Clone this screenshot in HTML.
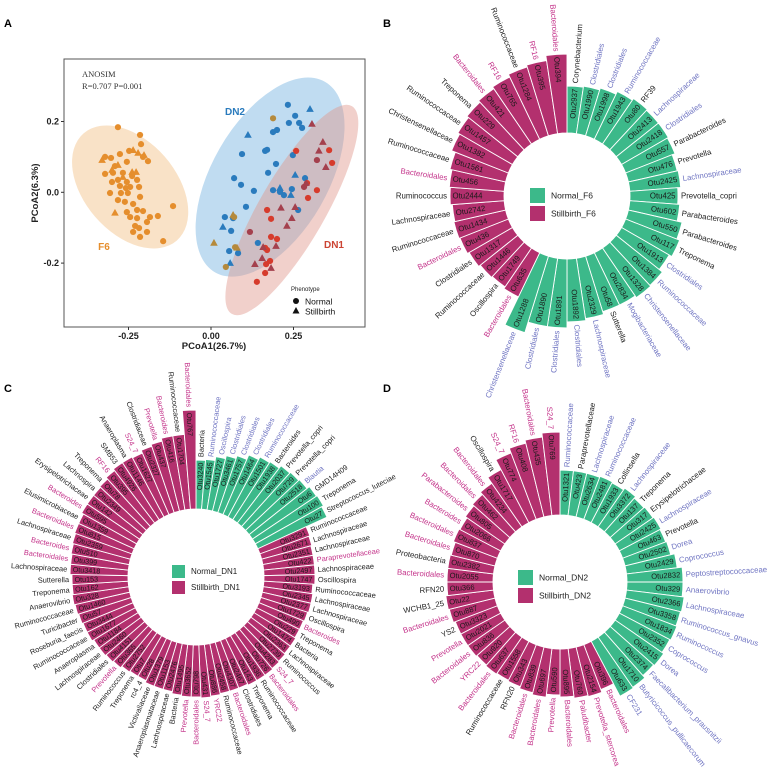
<!DOCTYPE html>
<html><head><meta charset="utf-8">
<style>
html,body{margin:0;padding:0;background:#fff;}
svg{display:block;font-family:"Liberation Sans",Arial,sans-serif;}
</style></head>
<body>
<svg id="fig" width="778" height="783" viewBox="0 0 778 783" xmlns="http://www.w3.org/2000/svg">
  <text x="4" y="27" font-size="11" font-weight="bold">A</text>
  <text x="383" y="27" font-size="11" font-weight="bold">B</text>
  <text x="4" y="392" font-size="11" font-weight="bold">C</text>
  <text x="383" y="392" font-size="11" font-weight="bold">D</text>
  <g id="panelA"></g>
  <g id="panelB"></g>
  <g id="panelC"></g>
  <g id="panelD"></g>
</svg>
<script>
// ---------- Panel A data (PCoA coordinates) ----------
const xTicks = [-0.25, 0.00, 0.25];
const xTickLabels = ["-0.25", "0.00", "0.25"];
const yTicks = [0.2, 0.0, -0.2];
const yTickLabels = ["0.2", "0.0", "-0.2"];
const f6Circles = [[-0.282,0.184],[-0.215,0.162],[-0.212,0.136],[-0.321,0.100],[-0.303,0.097],[-0.276,0.108],[-0.248,0.117],[-0.206,0.100],[-0.191,0.088],[-0.255,0.086],[-0.291,0.074],[-0.321,0.052],[-0.297,0.055],[-0.267,0.055],[-0.239,0.046],[-0.300,0.029],[-0.282,0.035],[-0.255,0.029],[-0.224,0.035],[-0.276,0.018],[-0.245,0.015],[-0.218,0.015],[-0.306,-0.002],[-0.273,-0.002],[-0.252,-0.002],[-0.282,-0.022],[-0.261,-0.027],[-0.236,-0.033],[-0.215,-0.013],[-0.255,-0.056],[-0.224,-0.050],[-0.206,-0.053],[-0.185,-0.070],[-0.245,-0.070],[-0.224,-0.073],[-0.194,-0.084],[-0.230,-0.095],[-0.218,-0.101],[-0.236,-0.112],[-0.194,-0.112],[-0.215,-0.126],[-0.161,-0.067],[-0.115,-0.039],[-0.145,-0.138],[-0.258,0.012]];
const f6Triangles = [[-0.330,0.091],[-0.236,0.119],[-0.221,0.111],[-0.203,0.105],[-0.282,0.077],[-0.300,0.063],[-0.239,0.057],[-0.227,0.057],[-0.267,0.043],[-0.291,-0.058]];
const dn2Circles = [[0.233,0.247],[0.255,0.216],[0.236,0.196],[0.267,0.196],[0.276,0.182],[0.188,0.170],[0.200,0.176],[0.170,0.120],[0.164,0.117],[0.094,0.108],[0.248,0.105],[0.197,0.080],[0.173,0.055],[0.070,0.040],[0.091,0.021],[0.130,0.004],[0.245,0.009],[0.285,0.040],[0.221,-0.008],[0.106,-0.041],[0.042,-0.070],[0.067,-0.073],[0.061,-0.109],[0.055,-0.166],[0.082,-0.172],[0.142,-0.143],[0.264,-0.050],[0.188,0.006],[0.209,0.001]];
const dn2Triangles = [[0.112,0.162],[0.300,0.235],[0.255,0.049],[0.209,0.012],[0.242,-0.008],[0.036,-0.098],[0.058,-0.200]];
const mixCircles = [[0.188,0.209],[0.070,-0.070],[0.045,-0.211],[0.073,-0.155]];
const mixTriangles = [[0.009,-0.143],[0.067,-0.064],[0.079,-0.157]];
const dn1Circles = [[0.258,0.117],[0.358,0.119],[0.367,0.083],[0.321,0.006],[0.294,-0.016],[0.170,-0.050],[0.182,-0.075],[0.182,-0.126],[0.200,-0.132],[0.164,-0.157],[0.170,-0.163],[0.179,-0.194],[0.167,-0.203],[0.164,-0.228],[0.139,-0.253],[0.291,0.026]];
const dn1DarkCircles = [[0.321,0.091],[0.118,-0.112],[0.282,0.015]];
const dn1Triangles = [[0.306,0.193],[0.339,0.142],[0.327,0.117],[0.348,0.071],[0.288,0.026],[0.212,-0.044],[0.255,-0.042],[0.230,-0.095],[0.245,-0.073],[0.197,-0.152],[0.158,-0.155],[0.155,-0.186],[0.133,-0.203],[0.182,-0.214]];
const ellipseCenters = [[-0.245,0.015],[0.179,0.043],[0.245,-0.050]];

// ---------- Panel B data ----------
const bNormalIds = [2937,1990,1998,1943,80,2413,2418,557,476,2425,425,602,550,117,1913,1384,1328,2834,58,2329,1892,1891,1890,1288];
const bNormalTaxa = ["Corynebacterium","Clostridiales","Clostridiales","Ruminococcaceae","RF39","Lachnospiraceae","Clostridiales","Parabacteroides","Prevotella","Lachnospiraceae","Prevotella_copri","Parabacteroides","Parabacteroides","Treponema","Clostridiales","Ruminococcaceae","Christensenellaceae","Mogibacteriaceae","Sutterella","Lachnospiraceae","Clostridiales","Clostridiales","Clostridiales","Christensenellaceae"];
const bNormalCol = ["k","b","b","b","k","b","b","k","k","b","k","k","k","k","b","b","b","b","k","b","b","b","b","b"];
const bNormalVals = [4.7,4.8,5.0,5.3,5.5,5.4,5.4,5.3,5.0,5.1,4.8,5.0,5.5,5.8,5.5,5.9,6.0,5.8,5.8,6.1,6.3,6.9,6.9,8.0];
const bStillIds = [635,1749,1446,1317,436,1434,2742,2444,456,1561,1382,1457,229,421,765,1284,395,394];
const bStillTaxa = ["Bacteroidales","Oscillospira","Ruminococcaceae","Clostridiales","Bacteroidales","Ruminococcaceae","Lachnospiraceae","Ruminococcus","Bacteroidales","Ruminococcaceae","Christensenellaceae","Ruminococcaceae","Treponema","Bacteroidales","RF16","Ruminococcaceae","RF16","Bacteroidales"];
const bStillCol = ["p","k","k","k","p","k","k","k","p","k","k","k","k","p","p","k","p","p"];
const bStillVals = [4.9,4.7,4.8,5.0,5.2,5.3,5.2,5.4,5.5,5.7,6.1,6.3,6.5,6.7,6.9,7.2,7.4,7.9];

// ---------- Panel C data ----------
const cNormalIds = [3240,1545,1727,3461,1757,1464,1501,1938,2037,729,2518,6,100,27];
const cNormalTaxa = ["Bacteria","Ruminococcaceae","Oscillospira","Clostridiales","Clostridiales","Clostridiales","Ruminococcaceae","Bacteroides","Prevotella_copri","Prevotella_copri","Blautia","GMD14H09","Treponema","Streptococcus_luteciae"];
const cNormalCol = ["k","b","b","b","b","b","b","k","k","k","b","k","k","k"];
const cNormalVals = [4.9,5.0,5.4,5.7,6.0,6.5,6.8,6.9,7.2,7.3,7.4,7.7,7.8,7.6];
const cStillIds = [3291,2671,2351,422,2497,1747,3193,2345,2377,1729,490,229,1474,2363,2739,4283,726,1936,143,2467,4307,2458,886,431,798,3652,1495,2476,1153,1379,28,7,2752,365,4151,2460,1184,1677,3444,57,1460,328,162,153,3418,399,510,2359,815,1359,595,142,2349,78,395,4926,1146,1627,2327,437,416,1704,767];
const cStillTaxa = ["Ruminococcaceae","Lachnospiraceae","Lachnospiraceae","Paraprevotellaceae","Lachnospiraceae","Oscillospira","Ruminococcaceae","Lachnospiraceae","Lachnospiraceae","Oscillospira","Bacteroides","Treponema","Bacteria","Lachnospiraceae","Ruminococcus","S24_7","Bacteroidales","Ruminococcaceae","Treponema","Clostridiales","Bacteroidales","Ruminococcaceae","YRC22","S24_7","Bacteroidales","Prevotella","Bacteria","Lachnospiraceae","Anaeroplasmataceae","Victivallaceae","rc4_4","Treponema","Ruminococcus","Prevotella","Clostridiales","Lachnospiraceae","Anaeroplasma","Ruminococcaceae","Roseburia_faecis","Turicibacter","Ruminococcaceae","Anaerovibrio","Treponema","Sutterella","Lachnospiraceae","Bacteroidales","Bacteroides","Lachnospiraceae","Bacteroidales","Elusimicrobiaceae","Bacteroides","Erysipelotrichaceae","Lachnospira","Treponema","RF16","SMB53","Anaeroplasma","S24_7","Clostridiaceae","Prevotella","Bacteroides","Ruminococcaceae","Bacteroidales"];
const cStillCol = ["k","k","k","p","k","k","k","k","k","k","p","k","k","k","k","p","p","k","k","k","p","k","p","p","p","p","k","k","k","k","k","k","k","p","k","k","k","k","k","k","k","k","k","k","k","p","p","k","p","k","p","k","k","k","p","k","k","p","k","p","p","k","p"];
const cStillVals = [5.3,5.2,5.1,5.1,5.1,5.1,4.9,5.0,5.0,4.9,4.8,4.8,4.9,4.9,5.0,5.1,5.2,5.2,5.2,5.1,5.1,5.1,5.2,5.3,5.2,5.2,5.1,4.9,4.9,4.9,4.7,4.7,4.8,5.0,5.1,5.2,5.2,5.4,5.4,5.5,5.6,5.7,5.6,5.6,5.8,5.8,5.9,6.0,6.1,6.1,6.3,6.3,6.3,6.4,6.6,6.8,6.8,6.7,7.0,7.2,7.5,7.5,9.9];

// ---------- Panel D data ----------
const dNormalIds = [1321,423,2634,2481,1933,3372,137,317,2425,463,2502,2429,2832,329,2366,3358,1834,2352,2415,2374,1710,633];
const dNormalTaxa = ["Ruminococcaceae","Paraprevotellaceae","Lachnospiraceae","Ruminococcaceae","Collinsella","Lachnospiraceae","Treponema","Erysipelotrichaceae","Lachnospiraceae","Prevotella","Dorea","Coprococcus","Peptostreptococcaceae","Anaerovibrio","Lachnospiraceae","Ruminococcus_gnavus","Ruminococcus","Coprococcus","Dorea","Faecalibacterium_prausnitzii","Butyricicoccus_pullicaecorum","CF231"];
const dNormalCol = ["b","k","b","b","k","b","k","k","b","k","b","b","b","b","b","b","b","b","b","b","b","b"];
const dNormalVals = [4.5,4.5,4.5,4.6,4.5,4.7,4.5,4.6,4.7,4.6,4.7,5.1,5.6,5.6,5.8,5.7,5.8,5.7,5.9,5.8,6.1,6.2];
const dStillIds = [396,2154,760,895,590,697,839,343,1558,637,920,836,2021,3323,887,22,366,2055,2382,870,837,2066,805,462,4234,1717,774,408,435,769];
const dStillTaxa = ["Bacteroidales","Prevotella_stercorea","Paludibacter","Bacteroidales","Prevotella","Bacteroidales","Bacteroidales","RFN20","Ruminococcaceae","Bacteroidales","YRC22","Bacteroidales","Prevotella","YS2","Bacteroidales","WCHB1_25","RFN20","Bacteroidales","Proteobacteria","Bacteroidales","Bacteroidales","Bacteroides","Parabacteroides","Bacteroidales","Bacteroidales","Oscillospira","S24_7","RF16","Bacteroidales","S24_7"];
const dStillCol = ["p","p","p","p","p","p","p","k","k","p","p","p","p","k","p","k","k","p","k","p","p","p","p","p","p","k","p","p","p","p"];
const dStillVals = [4.8,5.1,5.0,4.8,4.6,4.9,4.7,4.5,4.4,4.5,4.4,4.5,4.5,4.5,4.7,4.8,4.6,4.6,4.6,4.5,4.7,4.6,4.8,5.0,5.3,6.0,7.1,7.6,7.9,8.3];

const NS = "http://www.w3.org/2000/svg";
function mk(tag, attrs, parent){
  const e = document.createElementNS(NS, tag);
  for (const k in attrs) e.setAttribute(k, attrs[k]);
  if (parent) parent.appendChild(e);
  return e;
}

// ---------- Panel A ----------
(function(){
  const g = document.getElementById('panelA');
  const L=64, T=59, R=365, B=327;
  const sx = v => 211 + v*330;
  const sy = v => 192.3 - v*354;
  const defs = mk('defs', {}, g);
  const cp = mk('clipPath', {id:'clipA'}, defs);
  mk('rect', {x:L, y:T, width:R-L, height:B-T}, cp);
  const plot = mk('g', {'clip-path':'url(#clipA)'}, g);
  
  
  const ellStyle = [
    {rx:71, ry:46, ang:49, fill:'rgba(242,190,130,0.45)', name:'f6-ellipse'},
    {rx:110, ry:58, ang:-60, fill:'rgba(130,185,228,0.5)', name:'dn2-ellipse'},
    {rx:120, ry:33, ang:-60, fill:'rgba(225,150,140,0.45)', name:'dn1-ellipse'}
  ];
  ellipseCenters.forEach((c,i)=>{
    const s = ellStyle[i];
    const cx = sx(c[0]), cy = sy(c[1]);
    const e = mk('ellipse', {cx:cx, cy:cy, rx:s.rx, ry:s.ry, fill:s.fill, transform:`rotate(${s.ang} ${cx} ${cy})`}, plot);
    
    
  });
  function circles(arr, color, name){
    arr.forEach(p=>{
      const c = mk('circle', {cx:sx(p[0]), cy:sy(p[1]), r:3.1, fill:color}, plot);
      
      
    });
  }
  function tris(arr, color, name){
    arr.forEach(p=>{
      const x=sx(p[0]), y=sy(p[1]);
      const t = mk('polygon', {points:`${x},${y-4} ${x-3.8},${y+2.8} ${x+3.8},${y+2.8}`, fill:color}, plot);
      
      
    });
  }
  circles(f6Circles, '#e58e2d', 'f6-normal-point');
  tris(f6Triangles, '#e58e2d', 'f6-stillbirth-point');
  circles(dn2Circles, '#2a7bbd', 'dn2-normal-point');
  tris(dn2Triangles, '#2a7bbd', 'dn2-stillbirth-point');
  circles(mixCircles, '#b58a3c', 'mixed-normal-point');
  tris(mixTriangles, '#b58a3c', 'mixed-stillbirth-point');
  circles(dn1Circles, '#d63b2c', 'dn1-normal-point');
  circles(dn1DarkCircles, '#a4404d', 'dn1-normal-point');
  tris(dn1Triangles, '#a4404d', 'dn1-stillbirth-point');

  const fr = mk('rect', {x:L, y:T, width:R-L, height:B-T, fill:'none', stroke:'#555', 'stroke-width':1}, g);
  
  

  xTicks.forEach((v,i)=>{
    mk('line', {x1:sx(v), x2:sx(v), y1:B, y2:B+3, stroke:'#333'}, g);
    const t = mk('text', {x:sx(v), y:B+12, 'font-size':9, 'font-weight':'bold', 'text-anchor':'middle', fill:'#222'}, g);
    t.textContent = xTickLabels[i];
    
    
  });
  yTicks.forEach((v,i)=>{
    mk('line', {x1:L-3, x2:L, y1:sy(v), y2:sy(v), stroke:'#333'}, g);
    const t = mk('text', {x:L-5, y:sy(v)+3, 'font-size':9, 'font-weight':'bold', 'text-anchor':'end', fill:'#222'}, g);
    t.textContent = yTickLabels[i];
    
    
  });
  const xt = mk('text', {x:214, y:349, 'font-size':9.5, 'font-weight':'bold', 'text-anchor':'middle', fill:'#222'}, g);
  xt.textContent = 'PCoA1(26.7%)';
  
  
  const yt = mk('text', {x:0, y:0, 'font-size':9.5, 'font-weight':'bold', 'text-anchor':'middle', fill:'#222', transform:'translate(38,193) rotate(-90)'}, g);
  yt.textContent = 'PCoA2(6.3%)';
  
  

  const an1 = mk('text', {x:82, y:77, 'font-size':8.5, 'font-family':'Liberation Serif, serif', fill:'#333'}, g);
  an1.textContent = 'ANOSIM';
  
  
  const an2 = mk('text', {x:82, y:89, 'font-size':8.5, 'font-family':'Liberation Serif, serif', fill:'#333'}, g);
  an2.textContent = 'R=0.707 P=0.001';
  
  

  const grp = [['DN2',235,115,'#2a7bbd'],['F6',104,250,'#e58e2d'],['DN1',334,248,'#cc4433']];
  grp.forEach(q=>{
    const t = mk('text', {x:q[1], y:q[2], 'font-size':10, 'font-weight':'bold', 'text-anchor':'middle', fill:q[3]}, g);
    t.textContent = q[0];
    
    
  });
  const lg = mk('g', {}, g);
  
  
  const lt = mk('text', {x:291, y:291, 'font-size':6, fill:'#222'}, lg);
  lt.textContent = 'Phenotype';
  mk('circle', {cx:296, cy:301, r:3, fill:'#111'}, lg);
  const l1 = mk('text', {x:305, y:304.5, 'font-size':8.5, fill:'#111'}, lg);
  l1.textContent = 'Normal';
  mk('polygon', {points:'296,307 292.5,313.5 299.5,313.5', fill:'#111'}, lg);
  const l2 = mk('text', {x:305, y:314.5, 'font-size':8.5, fill:'#111'}, lg);
  l2.textContent = 'Stillbirth';
})();

// ---------- Circular bar charts ----------
const GREEN = '#3cb98a', MAG = '#b3306e';
const TAXCOL = {k:'#222222', b:'#6f74c2', p:'#c4338a'};
function drawRing(gid, cfg){
  const g = document.getElementById(gid);
  const ids = cfg.nIds.concat(cfg.sIds);
  const taxa = cfg.nTaxa.concat(cfg.sTaxa);
  const cols = cfg.nCol.concat(cfg.sCol);
  const vals = cfg.nVals.concat(cfg.sVals);
  const N = ids.length, step = 360/N;
  const P = (r,a)=>{ const t=a*Math.PI/180; return [cfg.cx + r*Math.sin(t), cfg.cy - r*Math.cos(t)]; };
  for (let i=0;i<N;i++){
    const normal = i < cfg.nIds.length;
    const a0 = i*step, a1 = a0+step, mid = a0+step/2;
    const rO = cfg.r0 + vals[i]*10;
    const p1=P(cfg.r0,a0), p2=P(rO,a0), p3=P(rO,a1), p4=P(cfg.r0,a1);
    const d = `M${p1[0]},${p1[1]} L${p2[0]},${p2[1]} A${rO},${rO} 0 0 1 ${p3[0]},${p3[1]} L${p4[0]},${p4[1]} A${cfg.r0},${cfg.r0} 0 0 0 ${p1[0]},${p1[1]} Z`;
    const bar = mk('path', {d:d, fill: normal?GREEN:MAG, stroke:'#fff', 'stroke-width':0.9}, g);
    
    
    const right = mid < 180;
    const rot = right ? mid-90 : mid+90;
    const pi = P(rO-2.5, mid);
    const ti = mk('text', {x:pi[0], y:pi[1], 'font-size':cfg.fo, 'text-anchor': right?'end':'start', 'dominant-baseline':'central', fill:'#1a1a1a', transform:`rotate(${rot} ${pi[0]} ${pi[1]})`}, g);
    ti.textContent = 'Otu' + ids[i];
    
    
    const po = P(rO+3, mid);
    const to = mk('text', {x:po[0], y:po[1], 'font-size':cfg.ft, 'text-anchor': right?'start':'end', 'dominant-baseline':'central', fill:TAXCOL[cols[i]], transform:`rotate(${rot} ${po[0]} ${po[1]})`}, g);
    to.textContent = taxa[i];
    
    
  }
  const lg = mk('g', {}, g);
  
  
  mk('rect', {x:cfg.lx, y:cfg.ly, width:cfg.ls, height:cfg.ls, fill:GREEN}, lg);
  mk('rect', {x:cfg.lx, y:cfg.ly+cfg.ls+3, width:cfg.ls, height:cfg.ls, fill:MAG}, lg);
  const t1 = mk('text', {x:cfg.lx+cfg.ls+6, y:cfg.ly+cfg.ls/2, 'font-size':cfg.lf, 'dominant-baseline':'central', fill:'#222'}, lg);
  t1.textContent = cfg.n1;
  const t2 = mk('text', {x:cfg.lx+cfg.ls+6, y:cfg.ly+cfg.ls*1.5+3, 'font-size':cfg.lf, 'dominant-baseline':'central', fill:'#222'}, lg);
  t2.textContent = cfg.n2;
}
drawRing('panelB', {cx:567, cy:196, r0:63, nIds:bNormalIds, nTaxa:bNormalTaxa, nCol:bNormalCol, nVals:bNormalVals, sIds:bStillIds, sTaxa:bStillTaxa, sCol:bStillCol, sVals:bStillVals, fo:7.8, ft:7.8, lx:530, ly:188, ls:15, lf:8.5, n1:'Normal_F6', n2:'Stillbirth_F6'});
drawRing('panelC', {cx:196, cy:577, r0:68, nIds:cNormalIds, nTaxa:cNormalTaxa, nCol:cNormalCol, nVals:cNormalVals, sIds:cStillIds, sTaxa:cStillTaxa, sCol:cStillCol, sVals:cStillVals, fo:7.2, ft:7.4, lx:172, ly:565, ls:13, lf:8, n1:'Normal_DN1', n2:'Stillbirth_DN1'});
drawRing('panelD', {cx:560, cy:582, r0:67, nIds:dNormalIds, nTaxa:dNormalTaxa, nCol:dNormalCol, nVals:dNormalVals, sIds:dStillIds, sTaxa:dStillTaxa, sCol:dStillCol, sVals:dStillVals, fo:7.6, ft:7.8, lx:518, ly:570, ls:15, lf:8.5, n1:'Normal_DN2', n2:'Stillbirth_DN2'});
</script>
</body></html>
